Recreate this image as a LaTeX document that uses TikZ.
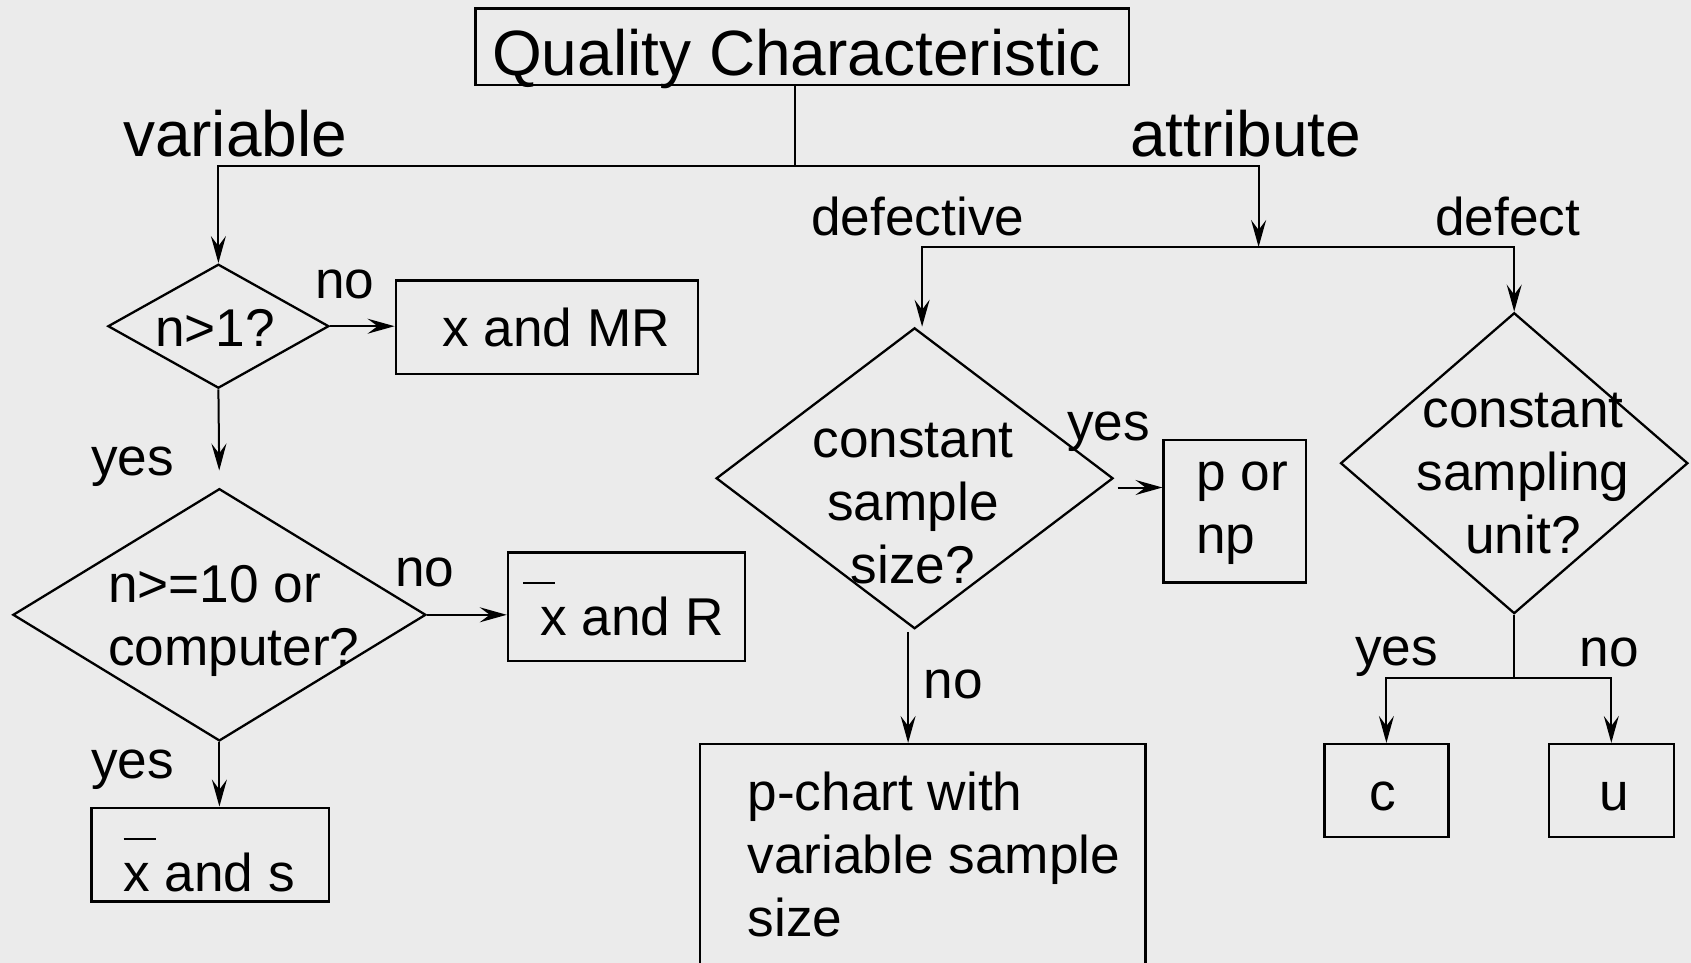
\documentclass[tikz,border=0pt]{standalone}
\usepackage{fontspec}
\setmainfont{Liberation Sans}
\usetikzlibrary{shapes.geometric,arrows.meta}
\definecolor{bgc}{RGB}{235,235,235}
\newcommand{\bigfont}{\fontsize{64}{76}\selectfont}
\newcommand{\smfont}{\fontsize{53.2}{63}\selectfont}
\newcommand{\xbarmark}[1]{\makebox[0pt][l]{\hspace*{#1}\raisebox{51pt}{\rule{32pt}{2.2pt}}}}
\newcommand{\lns}[2]{\begin{tabular}[t]{@{}#1@{}}#2\end{tabular}}
\begin{document}
\begin{tikzpicture}[x=1pt,y=-1pt,
  rbox/.style={draw, line width=2.5pt, rectangle, inner sep=0pt},
  dbox/.style={draw, line width=2.3pt, diamond, inner sep=0pt},
  link/.style={line width=2pt},
  arr/.style={line width=2pt, -{Stealth[length=27pt,width=15pt,inset=10pt]}},
  big/.style={font=\bigfont, inner sep=0pt},
  sm/.style={font=\smfont, inner sep=0pt},
]
\fill[bgc] (0,0) rectangle (1691,963);
\useasboundingbox (0,0) rectangle (1691,963);

% top
\node[rbox, minimum width=653.6pt, minimum height=76.6pt] (qc) at (802.4,46.9) {};
\node[big, anchor=base west] (tqc) at (492,76) {Quality Characteristic};
\node[big, anchor=base] (lvar) at (235.1,156) {variable};
\node[big, anchor=base] (latt) at (1245.7,156) {attribute};
\node[sm, anchor=base] (ldef1) at (917.8,235) {defective};
\node[sm, anchor=base] (ldef2) at (1507.7,235) {defect};

% variable branch
\node[dbox, minimum width=221pt, minimum height=124pt] (d1) at (218.4,326.2) {};
\node[sm, anchor=base] (td1) at (215.2,346) {n>1?};
\node[rbox, minimum width=302pt, minimum height=93.8pt] (mr) at (546.8,327.3) {};
\node[sm, anchor=base] (tmr) at (556,346) {x and MR};
\node[sm, anchor=base] (lno1) at (345,298) {no};
\node[sm, anchor=base] (lyes1) at (132.7,475) {yes};

\node[dbox, minimum width=413pt, minimum height=252.3pt] (d2) at (219.4,614.8) {};
\node[sm, anchor=base west] (td2) at (108,602) {\lns{l}{n>=10 or\\computer?}};
\node[rbox, minimum width=237.2pt, minimum height=108.9pt] (xr) at (626.6,606.7) {};
\node[sm, anchor=base west] (txr) at (540,635) {\xbarmark{-17pt}x and R};
\node[sm, anchor=base] (lno2) at (425,586) {no};
\node[rbox, minimum width=237.2pt, minimum height=93.8pt] (xs) at (210.3,854.7) {};
\node[sm, anchor=base west] (txs) at (123.3,891) {\xbarmark{0pt}x and s};
\node[sm, anchor=base] (lyes2) at (132.7,778) {yes};

% attribute: defective
\node[dbox, minimum width=396.9pt, minimum height=300.9pt] (d3) at (914.6,478.3) {};
\node[sm, anchor=base] (td3) at (913,457) {\lns{c}{constant\\sample\\size?}};
\node[sm, anchor=base] (lyes3) at (1108.7,440) {yes};
\node[rbox, minimum width=142.4pt, minimum height=142.4pt] (pnp) at (1234.9,511.2) {};
\node[sm, anchor=base west] (tpnp) at (1196,490) {\lns{l}{p or\\np}};
\node[rbox, minimum width=445.4pt, minimum height=226pt] (pc) at (922.7,857.2) {};
\node[sm, anchor=base west] (tpc) at (747.4,810) {\lns{l}{p-chart with\\variable sample\\size}};
\node[sm, anchor=base] (lno3) at (953.4,698) {no};

% attribute: defect
\node[dbox, minimum width=347.3pt, minimum height=300.9pt] (d4) at (1514.2,463.2) {};
\node[sm, anchor=base] (td4) at (1523,427) {\lns{c}{constant\\sampling\\unit?}};
\node[rbox, minimum width=124pt, minimum height=92.7pt] (cb) at (1386.4,790.5) {};
\node[rbox, minimum width=125.1pt, minimum height=92.7pt] (ub) at (1611.3,790.5) {};
\node[sm, anchor=base] (tc) at (1382.6,810) {c};
\node[sm, anchor=base] (tu) at (1614.5,810) {u};
\node[sm, anchor=base] (lyes4) at (1396.7,665) {yes};
\node[sm, anchor=base] (lno4) at (1609.1,666) {no};

% connectors
\coordinate (jroot) at (794.8,166.1);
\coordinate (jattr) at (1258.6,247);
\coordinate (jd4) at (1514.2,678.4);
\draw[link] (qc.south -| jroot) -- (jroot);
\draw[arr] (jroot) -| (d1.north);
\draw[arr] (jroot) -| (jattr);
\draw[arr] (jattr) -| ([xshift=7.5pt]d3.north);
\draw[arr] (jattr) -| (d4.north);
\draw[arr] (d1.east) -- (mr.west |- d1.east);
\draw[arr, shorten >=17pt] (d1.south) -- (d2.north);
\draw[arr] (d2.east) -- (xr.west |- d2.east);
\draw[arr] (d2.south) -- (xs.north -| d2.south);
\coordinate (p3) at ([xshift=3.3pt,yshift=-9.2pt]d3.east);
\draw[arr] (p3) -- (p3 -| pnp.west);
\coordinate (q3) at ([xshift=-6.5pt,yshift=-2pt]d3.south);
\draw[arr] (q3) -- (q3 |- pc.north);
\draw[link] (d4.south) -- (jd4);
\draw[arr] (jd4) -| (cb.north);
\draw[arr] (jd4) -| (ub.north);
\end{tikzpicture}
\end{document}
